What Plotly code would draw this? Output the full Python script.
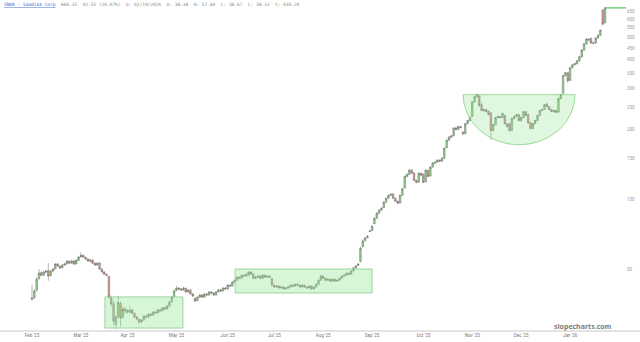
import math
import numpy as np
import plotly.graph_objects as go

# ---------------- data ----------------
opens = [37.5, 37.6, 40.5, 45.5, 48.2, 47.0, 48.4, 49.2, 46.8, 49.0,
         50.0, 52.6, 51.4, 50.6, 52.0, 52.6, 54.0, 53.0, 54.2, 52.6,
         54.5, 56.4, 57.3, 56.2, 55.2, 54.0, 54.7, 53.0, 52.0, 53.1,
         50.0, 48.5, 47.4, 46.4, 37.6, 35.4, 28.8, 31.2, 35.5, 31.0,
         33.6, 33.0, 32.5, 33.3, 32.2, 31.0, 30.3, 29.6, 30.1, 31.3,
         31.0, 31.9, 31.6, 32.6, 32.3, 33.3, 33.0, 34.0, 33.6, 34.6,
         36.0, 38.0, 40.4, 41.4, 41.0, 40.6, 41.3, 39.8, 40.6, 39.0,
         37.4, 36.6, 37.8, 38.6, 37.8, 39.0, 38.6, 39.8, 39.4, 38.6,
         39.8, 40.6, 40.2, 41.4, 41.0, 42.6, 42.2, 43.9, 44.7, 46.1,
         45.6, 47.0, 46.6, 47.0, 48.5, 47.6, 45.6, 46.1, 46.6, 45.6,
         47.0, 46.1, 46.6, 45.4, 42.6, 41.8, 42.2, 41.4, 41.8, 41.0,
         41.4, 41.8, 42.6, 42.2, 43.0, 42.6, 41.8, 42.6, 41.8, 41.4,
         42.2, 41.0, 41.8, 43.0, 44.7, 46.6, 45.6, 44.7, 45.2, 44.3,
         45.2, 44.3, 44.7, 45.6, 46.6, 47.0, 48.0, 47.5, 49.0, 50.5,
         51.8, 53.8, 62.4, 66.4, 68.3, 72.6, 73.2, 78.5, 82.8, 87.0,
         89.7, 92.0, 97.1, 101, 104, 105.5, 101, 98.1, 96.3, 104,
         112, 125.5, 128, 133.6, 130, 120.7, 118.5, 129.6, 128.5, 119,
         133.6, 126, 137.8, 143.3, 144.7, 147.6, 146, 150.5, 167, 180,
         185.5, 188, 203, 200, 206, 195, 192, 212, 218.7, 228,
         263.6, 277, 280, 256, 241.6, 244, 240, 236, 198, 210,
         225.4, 227.7, 225.4, 230, 212, 212, 198, 223, 227.7, 232,
         218.7, 225.4, 239, 232, 214, 202, 212, 218.7, 230, 241.6,
         244, 258, 251, 244, 239, 241.6, 238, 272, 287, 341.6,
         352, 326, 370, 381, 385, 396, 412, 441, 468.6, 492,
         495, 471, 473, 497, 511, 656, 578]
highs = [42.7, 41.0, 46.0, 50.0, 48.8, 49.2, 49.6, 53.0, 49.5, 50.6,
         53.0, 53.0, 51.8, 52.5, 53.2, 54.6, 54.4, 54.8, 54.5, 55.0,
         56.8, 59.0, 57.8, 56.6, 55.6, 55.2, 55.0, 53.4, 53.5, 53.4,
         50.4, 49.0, 47.9, 46.8, 38.4, 36.5, 31.6, 38.3, 36.2, 34.4,
         34.2, 33.6, 34.6, 33.7, 32.5, 31.4, 30.6, 30.5, 31.7, 31.6,
         32.2, 32.2, 32.9, 32.9, 33.6, 33.6, 34.3, 34.4, 35.0, 36.5,
         38.3, 40.8, 42.4, 41.8, 41.4, 41.9, 41.6, 41.0, 40.9, 39.3,
         37.6, 38.2, 39.0, 38.9, 39.4, 39.3, 40.2, 40.1, 39.6, 40.1,
         41.0, 40.9, 41.8, 41.7, 43.0, 42.9, 44.3, 45.1, 46.6, 46.5,
         47.4, 47.3, 47.9, 49.0, 48.8, 47.9, 46.6, 47.0, 46.9, 47.4,
         47.3, 47.0, 46.9, 45.7, 42.9, 42.5, 42.5, 42.1, 42.0, 41.7,
         42.1, 42.9, 42.9, 43.3, 43.3, 42.8, 42.9, 42.8, 42.0, 42.5,
         42.4, 42.1, 43.3, 45.1, 47.3, 46.9, 45.9, 45.5, 45.4, 45.5,
         45.4, 45.0, 45.9, 46.9, 47.4, 48.4, 48.3, 49.4, 51.0, 52.0,
         53.0, 62.4, 67.0, 68.8, 70.0, 73.8, 77.4, 83.8, 88.0, 90.6,
         92.5, 98.0, 102, 105.2, 106.5, 106, 101.5, 98.6, 104.8, 112,
         126.7, 129.5, 135, 134.5, 130.6, 121.5, 130.5, 130.2, 129, 134.5,
         134, 139, 144.5, 146, 149, 148.8, 152, 167.5, 181.5, 187.5,
         190, 205, 205.5, 208, 207.5, 196.5, 213.5, 220.5, 227.5, 265.5,
         279.5, 287, 281, 262, 246, 245.5, 241.5, 237.5, 212, 227,
         230, 229, 236.5, 231, 213.5, 213.5, 225, 229.5, 234, 233,
         227, 241, 240, 233.5, 215.5, 214, 220.5, 232, 243.5, 246,
         258, 260, 252.5, 245.5, 243.5, 243, 274, 286, 345, 356,
         354, 373, 385, 389, 400, 416, 445, 473, 497, 496,
         498, 479, 502, 516, 542, 662, 676]
lows = [36.5, 37.0, 40.0, 45.0, 46.5, 46.8, 48.0, 44.5, 46.5, 48.6,
        49.8, 51.0, 50.0, 50.3, 51.6, 52.3, 52.6, 52.8, 52.0, 52.3,
        54.2, 56.0, 55.8, 54.8, 53.7, 53.6, 52.6, 51.6, 51.7, 49.6,
        48.1, 47.1, 46.5, 37.2, 34.5, 28.5, 27.6, 30.6, 28.3, 30.5,
        32.2, 32.0, 32.1, 31.8, 30.7, 30.0, 29.0, 29.2, 29.9, 30.6,
        30.8, 31.3, 31.4, 32.0, 32.1, 32.7, 32.8, 33.3, 33.4, 34.4,
        35.8, 37.8, 40.1, 40.6, 40.2, 40.3, 39.5, 39.5, 38.7, 37.9,
        36.0, 36.3, 37.5, 37.5, 37.6, 38.3, 38.4, 39.1, 38.3, 38.4,
        39.6, 39.9, 40.0, 40.7, 40.8, 41.9, 42.0, 43.6, 44.5, 45.3,
        45.4, 46.3, 46.4, 46.8, 47.2, 45.3, 45.3, 45.8, 45.3, 45.4,
        45.8, 45.9, 45.8, 42.2, 41.5, 41.5, 41.1, 41.1, 40.7, 40.7,
        41.1, 41.6, 41.9, 42.0, 42.3, 41.5, 41.6, 41.5, 41.0, 41.2,
        40.6, 40.8, 41.6, 42.8, 44.5, 45.3, 44.4, 44.4, 44.0, 44.1,
        44.0, 44.0, 44.5, 45.4, 46.3, 46.8, 47.2, 47.3, 48.8, 50.3,
        51.6, 53.5, 62.0, 65.8, 67.8, 72.0, 73.0, 78.2, 82.5, 86.5,
        89.2, 91.7, 96.6, 100.5, 103.2, 100.4, 97.5, 95.5, 96.0, 103.5,
        111.5, 124.5, 127.3, 128.8, 119.8, 117.2, 118, 126, 117.5, 118.5,
        124.5, 125.5, 137, 142.5, 144, 145, 145.5, 150, 166.5, 179,
        184, 187, 198.5, 199, 202, 189, 191, 211, 217, 227,
        262, 275, 251, 240, 239, 237.5, 230, 181, 196, 208.5,
        223.5, 223.5, 224, 210.5, 204, 196, 197, 221.5, 226, 217,
        217, 224, 228.5, 212, 200, 200.5, 211, 217.5, 229, 240,
        243, 249.5, 242.5, 237.5, 237.5, 235, 237, 270, 285, 339,
        318, 324, 367, 378, 382, 393, 409, 438, 465, 482,
        468, 466, 470, 493, 508, 562, 574]
closes = [37.1, 40.2, 45.2, 48.0, 47.0, 48.5, 49.0, 46.6, 49.0, 50.0,
          52.5, 51.5, 50.5, 52.0, 52.5, 54.1, 53.0, 54.1, 52.5, 54.6,
          56.3, 57.4, 56.3, 55.2, 54.1, 54.6, 53.0, 52.0, 53.0, 50.0,
          48.5, 47.5, 47.0, 37.8, 35.3, 29.8, 31.0, 35.9, 30.7, 33.6,
          33.0, 32.6, 33.3, 32.3, 31.0, 30.4, 29.5, 30.1, 31.3, 31.0,
          31.9, 31.6, 32.6, 32.3, 33.3, 33.0, 34.0, 33.6, 34.6, 36.0,
          37.8, 40.2, 41.4, 41.0, 40.6, 41.4, 39.8, 40.6, 39.0, 38.2,
          36.4, 37.8, 38.6, 37.8, 39.0, 38.6, 39.8, 39.4, 38.6, 39.8,
          40.6, 40.2, 41.4, 41.0, 42.6, 42.2, 43.9, 44.7, 46.1, 45.6,
          47.0, 46.6, 47.5, 48.5, 47.5, 45.6, 46.1, 46.6, 45.6, 47.0,
          46.1, 46.6, 46.1, 42.6, 41.8, 42.2, 41.4, 41.8, 41.0, 41.4,
          41.8, 42.6, 42.2, 43.0, 42.6, 41.8, 42.6, 41.8, 41.4, 42.2,
          41.0, 41.8, 43.0, 44.7, 46.6, 45.6, 44.7, 45.2, 44.3, 45.2,
          44.3, 44.7, 45.6, 46.6, 47.0, 48.0, 47.5, 49.0, 50.5, 51.5,
          52.5, 61.6, 66.0, 68.0, 69.3, 73.0, 76.5, 82.8, 87.0, 89.7,
          91.5, 97.1, 101, 104, 105, 101, 98.1, 96.1, 104, 111,
          125.5, 128, 133.6, 129.6, 120.7, 118.3, 129.6, 127, 118.3, 133.6,
          125.5, 137.8, 143.3, 144.7, 147.6, 146, 150.5, 166, 180, 185.5,
          187.4, 203, 200, 206, 204, 191.7, 212, 218.7, 225.4, 263.6,
          277, 283, 253.5, 241.6, 244, 239, 232, 198, 210, 225.4,
          227.7, 225.4, 234.5, 212, 206, 198, 223, 227.7, 232, 218.7,
          225.4, 239, 230, 214, 202, 212, 218.7, 230, 241.6, 244,
          256, 251, 244, 239, 241.6, 237, 272, 283, 341.6, 352,
          325, 370, 381, 385, 396, 412, 441, 468.6, 492, 487,
          473, 473, 497, 511, 537, 570, 670]

month_labels = ["Feb '25", "Mar '25", "Apr '25", "May '25", "Jun '25", "Jul '25",
                "Aug '25", "Sep '25", "Oct '25", "Nov '25", "Dec '25", "Jan '26"]
price_ticks = [50, 100, 150, 200, 250, 300, 350, 400, 450, 500, 550, 600, 650]

header_name = "SNDK - Sandisk Corp"
header_info = "668.35  92.55 (16.07%)  D: 02/19/2026  O: 38.38  H: 57.60  L: 38.67  C: 38.33  V: 430.29"

# ---------------- figure ----------------
n = len(closes)
idx = list(range(n))

fig = go.Figure()

# highlighted zones (drawn under the candles)
box1 = dict(x0=31.3, x1=64.8, y0=27.8, y1=37.9)
box2 = dict(x0=87.2, x1=146.0, y0=39.4, y1=50.0)
zone_fill = "rgba(150,230,150,0.38)"
zone_line = "#86cf86"
for b in (box1, box2):
    fig.add_trace(go.Scatter(
        x=[b["x0"], b["x1"], b["x1"], b["x0"], b["x0"]],
        y=[b["y0"], b["y0"], b["y1"], b["y1"], b["y0"]],
        mode="lines", fill="toself", fillcolor=zone_fill,
        line=dict(color=zone_line, width=0.8), hoverinfo="skip", showlegend=False))

# scallop (half ellipse under a flat rim)
cx, ax_half = 209.1, 24.0
v_top, v_bot = 283.0, 172.0
t = np.linspace(0, math.pi, 80)
sx = cx + ax_half * np.cos(t)
sy = np.exp(np.log(v_top) + (np.log(v_bot) - np.log(v_top)) * np.sin(t))
sx = np.append(sx, sx[0])
sy = np.append(sy, sy[0])
fig.add_trace(go.Scatter(x=sx, y=sy, mode="lines", fill="toself", fillcolor="rgba(150,230,150,0.30)",
                         line=dict(color=zone_line, width=0.8), hoverinfo="skip", showlegend=False))

fig.add_trace(go.Candlestick(
    x=idx, open=opens, high=highs, low=lows, close=closes,
    increasing=dict(fillcolor="#94dc8c", line=dict(color="#5a5a5a", width=0.45)),
    decreasing=dict(fillcolor="#e89d94", line=dict(color="#5a5a5a", width=0.45)),
    whiskerwidth=0, showlegend=False))

# last-price line
fig.add_shape(type="line", xref="x", yref="y", x0=idx[-1], x1=270,
              y0=closes[-1], y1=closes[-1], line=dict(color="#5cc45c", width=1.2))

tick_idx = [0, 21, 41, 62, 84, 104, 125, 146, 168, 189, 210, 231]

fig.update_layout(
    width=640, height=342,
    margin=dict(l=0, r=14, t=0, b=11),
    paper_bgcolor="white", plot_bgcolor="white",
    showlegend=False,
    boxgap=0.05,
    xaxis=dict(range=[-13.74, 255.0], showgrid=False, zeroline=False,
               showline=False, tickvals=tick_idx, ticktext=month_labels,
               tickfont=dict(size=4.5, color="#777", family="Roboto"),
               ticks="", rangeslider=dict(visible=False), fixedrange=True),
    yaxis=dict(type="log", range=[math.log10(27.0), math.log10(725.0)], side="right",
               showgrid=False, zeroline=False, showline=False, ticks="",
               tickvals=price_ticks, ticktext=[str(v) for v in price_ticks],
               tickfont=dict(size=4.5, color="#999", family="Roboto"), fixedrange=True),
)

# bottom axis rule
fig.add_shape(type="line", xref="paper", yref="paper", x0=0, x1=1.03, y0=0, y1=0,
              line=dict(color="#c8c8c8", width=1))

fig.add_annotation(xref="paper", yref="paper", x=0.003, y=1.0, xanchor="left", yanchor="top",
                   showarrow=False,
                   text=f'<span style="color:#2a5bd7"><u>{header_name}</u></span>  '
                        f'<span style="color:#8a8a8a">{header_info}</span>',
                   font=dict(size=4.5, family="DejaVu Sans Mono", color="#888"))

fig.add_annotation(xref="paper", yref="paper", x=0.931, y=0.015, xanchor="center", yanchor="middle",
                   showarrow=False, text="<b>slopecharts.com</b>",
                   font=dict(size=7, family="Open Sans", color="#7a7a7a"))

fig.write_html("out.html")
